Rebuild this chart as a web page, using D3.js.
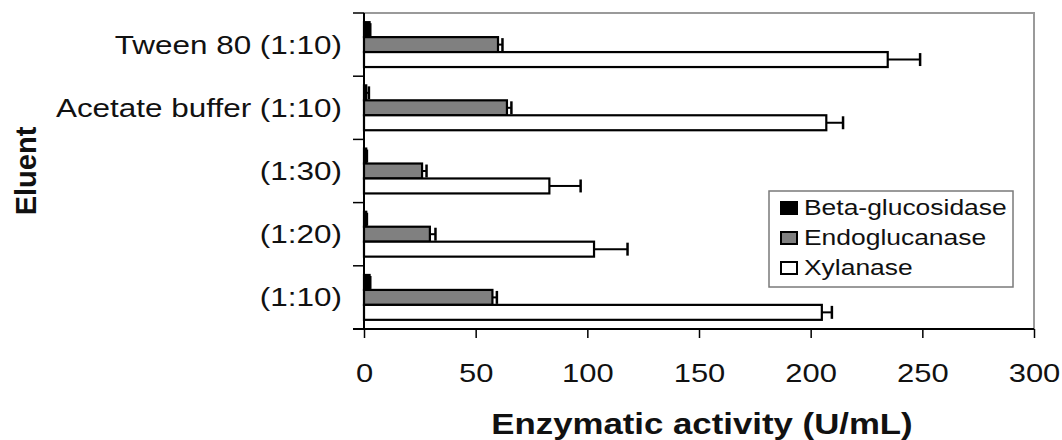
<!DOCTYPE html>
<html><head><meta charset="utf-8">
<script src="https://cdn.jsdelivr.net/npm/d3@7"></script>
<style>body{margin:0;background:#fff}svg{display:block}text{font-family:"Liberation Sans",Arial,sans-serif;fill:#111}</style>
</head><body>
<svg id="c" width="1062" height="440"></svg>
<script>
const categories = ["Tween 80 (1:10)", "Acetate buffer (1:10)", "(1:30)", "(1:20)", "(1:10)"];
const seriesNames = ["Beta-glucosidase", "Endoglucanase", "Xylanase"];
const betaGlucosidase = [2.5, 1, 1, 1, 2.5];
const betaGlucosidaseErr = [0.3, 1.2, 0.3, 0.3, 0.3];
const endoglucanase = [60, 64, 26, 29.5, 57.5];
const endoglucanaseErr = [2, 2, 2, 2.5, 2];
const xylanase = [234.5, 207, 83, 103, 205];
const xylanaseErr = [14.5, 7.5, 14, 15, 4.5];
const xTicks = [0, 50, 100, 150, 200, 250, 300];

const fills = ["#000000", "#808080", "#ffffff"];
const values = [betaGlucosidase, endoglucanase, xylanase];
const errs = [betaGlucosidaseErr, endoglucanaseErr, xylanaseErr];

const svg = d3.select("#c");
const L = 364, R = 1034, T = 13, B = 329;
const SX = 1.19;

const x = d3.scaleLinear().domain([0, 300]).range([L, R]);
const y = d3.scaleBand().domain(categories).range([T, B]).paddingInner(0.29).paddingOuter(0.145);
const ys = d3.scaleBand().domain(seriesNames).range([0, y.bandwidth()]);

// plot border (top/right grey)
svg.append("path").attr("d", `M${L},${T}H${R}V${B}`).attr("fill", "none").attr("stroke", "#9a9a9a").attr("stroke-width", 2);

// bars
const g = svg.append("g");
categories.forEach((c, i) => {
  seriesNames.forEach((s, k) => {
    const v = values[k][i], e = errs[k][i];
    const y0 = y(c) + ys(s), h = ys.bandwidth();
    g.append("rect").attr("x", x(0)).attr("y", y0).attr("width", x(v) - x(0)).attr("height", h)
      .attr("fill", fills[k]).attr("stroke", "#000").attr("stroke-width", 2.2);
    const cy = y0 + h / 2;
    g.append("line").attr("x1", x(v)).attr("x2", x(v + e)).attr("y1", cy).attr("y2", cy)
      .attr("stroke", "#000").attr("stroke-width", 2);
    g.append("line").attr("x1", x(v + e)).attr("x2", x(v + e)).attr("y1", cy - h / 2 + 1).attr("y2", cy + h / 2 - 1)
      .attr("stroke", "#000").attr("stroke-width", 2.5);
  });
});

// y axis line + boundary ticks
svg.append("line").attr("x1", L).attr("x2", L).attr("y1", T).attr("y2", B).attr("stroke", "#000").attr("stroke-width", 2);
for (let i = 0; i <= categories.length; i++) {
  const ty = y.range()[0] + i * y.step();
  svg.append("line").attr("x1", L - 11).attr("x2", L).attr("y1", ty).attr("y2", ty).attr("stroke", "#000").attr("stroke-width", 1.5);
}
// category labels
categories.forEach(c => {
  svg.append("text").attr("transform", `translate(342,${y(c) + y.bandwidth() / 2 + 9}) scale(1.21,1)`)
    .attr("text-anchor", "end").style("font-size", "26px").text(c);
});

// x axis
const xa = svg.append("g").attr("transform", `translate(0,${B})`)
  .call(d3.axisBottom(x).tickValues(xTicks).tickSize(9).tickSizeOuter(0).tickFormat(d3.format("d")));
xa.select(".domain").remove();
xa.selectAll(".tick line").attr("stroke", "#000").attr("stroke-width", 1.5);
xa.selectAll(".tick text").attr("y", null).attr("dy", null)
  .attr("transform", `translate(0,53) scale(${SX},1)`).style("font-size", "26px").attr("fill", "#111").attr("font-family", null);
svg.append("line").attr("x1", L - 11).attr("x2", R).attr("y1", B).attr("y2", B).attr("stroke", "#000").attr("stroke-width", 2);

// axis titles
svg.append("text").attr("transform", `translate(702,434) scale(1.2,1)`).attr("text-anchor", "middle")
  .style("font-size", "29px").style("font-weight", "bold").text("Enzymatic activity (U/mL)");
svg.append("text").attr("transform", `translate(36,171) rotate(-90)`).attr("text-anchor", "middle")
  .style("font-size", "29px").style("font-weight", "bold").text("Eluent");

// legend
const lg = svg.append("g");
lg.append("rect").attr("x", 769).attr("y", 191).attr("width", 244).attr("height", 96)
  .attr("fill", "#fff").attr("stroke", "#7a7a7a").attr("stroke-width", 1.5);
seriesNames.forEach((s, k) => {
  const by = 215 + k * 30;
  lg.append("rect").attr("x", 781).attr("y", by - 13).attr("width", 16).attr("height", 12)
    .attr("fill", fills[k]).attr("stroke", "#000").attr("stroke-width", 2);
  lg.append("text").attr("transform", `translate(804,${by}) scale(1.23,1)`).style("font-size", "21.5px").text(s);
});
</script>
</body></html>
